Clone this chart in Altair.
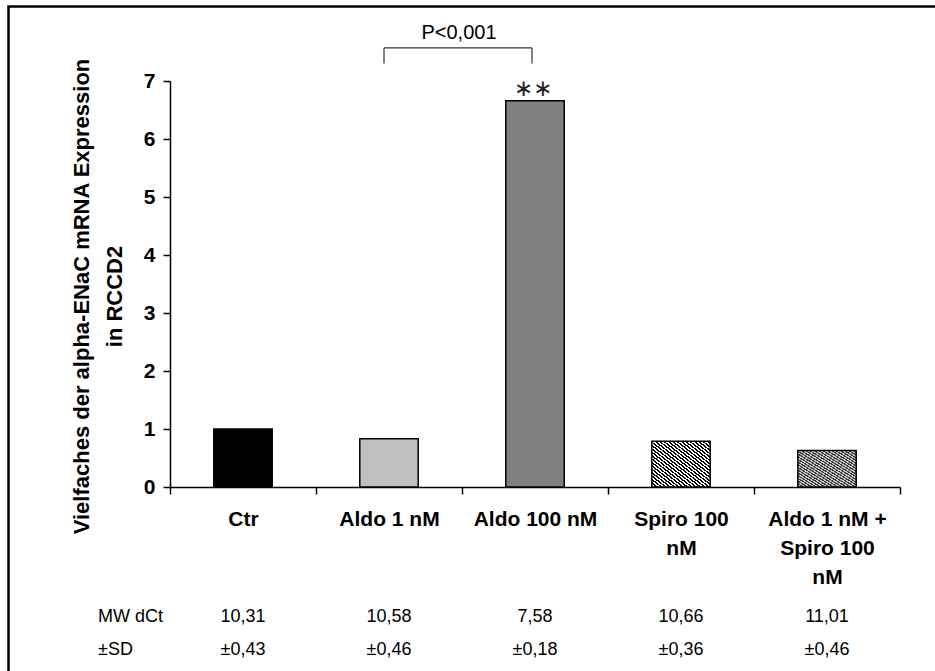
import altair as alt
import pandas as pd

# Treatment groups (line breaks in the axis labels are marked with "\n")
categories = [
    "Ctr",
    "Aldo 1 nM",
    "Aldo 100 nM",
    "Spiro 100\nnM",
    "Aldo 1 nM +\nSpiro 100\nnM",
]
# Fold change of alpha-ENaC mRNA expression
fold_change = [1.0, 0.83, 6.66, 0.79, 0.63]
# Mean dCt and standard deviation per group
mw_dct = [10.31, 10.58, 7.58, 10.66, 11.01]
sd_dct = [0.43, 0.46, 0.18, 0.36, 0.46]
# Solid fills for the first three groups
solid_fills = ["#000000", "#c0c0c0", "#808080", None, None]

# Significance bracket between Aldo 1 nM and Aldo 100 nM
bracket_left = categories[1]
bracket_right = categories[2]
bracket_top = 7.57
bracket_foot = 7.30
p_text = "P<0,001"
p_y = 7.83
star_text = "∗∗"
star_y = 6.86

FONT = "Liberation Sans"


def de_num(v):
    return f"{v:.2f}".replace(".", ",")


df = pd.DataFrame({
    "group": categories,
    "value": fold_change,
    "fill": solid_fills,
    "mw": [de_num(v) for v in mw_dct],
    "sd": ["±" + de_num(v) for v in sd_dct],
    "idx": list(range(len(categories))),
})

x_scale = alt.Scale(domain=categories, paddingInner=0, paddingOuter=0)
y_scale = alt.Scale(domain=[0, 7], nice=False, zero=True)

x_axis = alt.Axis(
    title=None,
    labelExpr="split(datum.label, '\\n')",
    labelFont=FONT,
    labelFontSize=21,
    labelFontWeight="bold",
    labelColor="black",
    labelLineHeight=29,
    labelPadding=14,
    labelAngle=0,
    tickBand="extent",
    tickSize=7,
    tickColor="black",
    tickWidth=1.5,
    domainColor="black",
    domainWidth=1.5,
)
y_axis = alt.Axis(
    title=["Vielfaches der alpha-ENaC mRNA Expression", "in RCCD2"],
    titleFont=FONT,
    titleFontSize=22,
    titleFontWeight="bold",
    titleColor="black",
    titleLineHeight=33,
    titlePadding=17,
    titleY=215,
    values=list(range(8)),
    format="d",
    labelFont=FONT,
    labelFontSize=21,
    labelFontWeight="bold",
    labelColor="black",
    labelPadding=8,
    tickSize=7,
    tickColor="black",
    tickWidth=1.5,
    domainColor="black",
    domainWidth=1.5,
    grid=False,
)

base = alt.Chart(df)
X = alt.X("group:N", scale=x_scale, axis=x_axis, sort=categories)
Y = alt.Y("value:Q", scale=y_scale, axis=y_axis)

solid_bars = base.transform_filter("datum.idx < 3").mark_bar(
    width=alt.RelativeBandSize(0.4), stroke="black", strokeWidth=1.5
).encode(x=X, y=Y, fill=alt.Fill("fill:N", scale=None))


def stripes(dark, light, periods=27):
    stops = []
    for k in range(periods):
        a = k / periods
        m = (k + 0.5) / periods
        b = (k + 1) / periods
        stops += [
            alt.GradientStop(offset=a, color=dark),
            alt.GradientStop(offset=m, color=dark),
            alt.GradientStop(offset=m, color=light),
            alt.GradientStop(offset=b, color=light),
        ]
    return alt.LinearGradient(gradient="linear", stops=stops, x1=0, y1=1, x2=1, y2=0)


hatch_spiro = base.transform_filter("datum.idx == 3").mark_bar(
    width=alt.RelativeBandSize(0.4), stroke="black", strokeWidth=1.5,
    fill=stripes("#000000", "#ffffff"),
).encode(x=X, y=Y)

hatch_combo = base.transform_filter("datum.idx == 4").mark_bar(
    width=alt.RelativeBandSize(0.4), stroke="black", strokeWidth=1.5,
    fill=stripes("#3a3a3a", "#c8c8c8"),
).encode(x=X, y=Y)

# Table of mean dCt and SD under the axis labels
mw_text = base.mark_text(font=FONT, fontSize=18, color="black", baseline="middle").encode(
    x=alt.X("group:N", scale=x_scale, sort=categories), y=alt.value(536), text="mw:N"
)
sd_text = base.mark_text(font=FONT, fontSize=18, color="black", baseline="middle").encode(
    x=alt.X("group:N", scale=x_scale, sort=categories), y=alt.value(569), text="sd:N"
)

row_heads = pd.DataFrame({"label": ["MW dCt", "±SD"], "ypos": [536, 569]})
row_text = alt.Chart(row_heads).mark_text(
    font=FONT, fontSize=18, color="black", align="left", baseline="middle"
).encode(x=alt.value(-72), y=alt.Y("ypos:Q", scale=None), text="label:N")

# Significance bracket
br = pd.DataFrame({"l": [bracket_left], "r": [bracket_right], "top": [bracket_top], "foot": [bracket_foot]})
bx = alt.Chart(br)
br_h = bx.mark_rule(color="#333333", strokeWidth=1.2, xOffset=-5, x2Offset=-3).encode(
    x=alt.X("l:N", scale=x_scale, sort=categories), x2="r:N", y=alt.Y("top:Q", scale=y_scale)
)
br_l = bx.mark_rule(color="#333333", strokeWidth=1.2, xOffset=-5).encode(
    x=alt.X("l:N", scale=x_scale, sort=categories), y=alt.Y("top:Q", scale=y_scale), y2="foot:Q"
)
br_r = bx.mark_rule(color="#333333", strokeWidth=1.2, xOffset=-3).encode(
    x=alt.X("r:N", scale=x_scale, sort=categories), y=alt.Y("top:Q", scale=y_scale), y2="foot:Q"
)

ann = pd.DataFrame({"g": [bracket_left, bracket_right], "yv": [p_y, star_y], "t": [p_text, star_text]})
p_label = alt.Chart(ann.iloc[[0]]).mark_text(
    font=FONT, fontSize=20, color="black", baseline="middle", xOffset=-3
).encode(
    x=alt.X("g:N", scale=x_scale, sort=categories, bandPosition=1),
    y=alt.Y("yv:Q", scale=y_scale), text="t:N",
)
star_label = alt.Chart(ann.iloc[[1]]).mark_text(
    font="DejaVu Sans", fontSize=23, color="#222222", baseline="middle", xOffset=-2
).encode(
    x=alt.X("g:N", scale=x_scale, sort=categories),
    y=alt.Y("yv:Q", scale=y_scale), text="t:N",
)

frame = alt.Chart(pd.DataFrame({"a": [0]})).mark_rect(
    fillOpacity=0, stroke="black", strokeWidth=2.5
).encode(x=alt.value(-161.5), x2=alt.value(800), y=alt.value(-74.5), y2=alt.value(700))

chart = alt.layer(
    solid_bars, hatch_spiro, hatch_combo, mw_text, sd_text, row_text,
    br_h, br_l, br_r, p_label, star_label, frame,
).properties(
    width=730,
    height=406,
    autosize=alt.AutoSizeParams(type="none"),
    padding={"left": 170, "top": 81, "right": 35, "bottom": 184},
    background="white",
).configure_view(stroke=None)

chart.save("out.html", embed_options={"renderer": "svg", "actions": False})
